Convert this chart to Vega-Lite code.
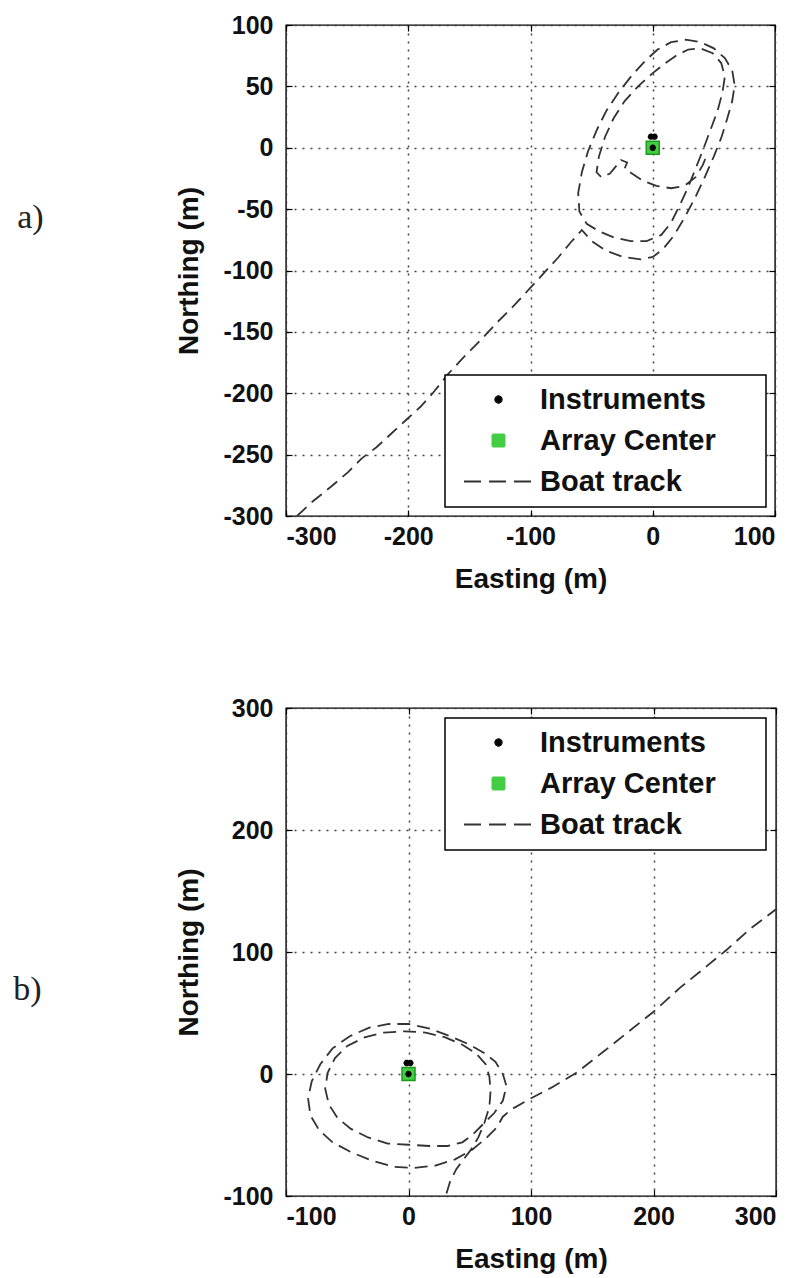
{
  "$schema": "https://vega.github.io/schema/vega-lite/v6.json",
  "background": "white",
  "padding": {"left": 12, "top": 12, "right": 5, "bottom": 5},
  "config": {
    "font": "Liberation Sans",
    "view": {"stroke": "#000", "strokeWidth": 1.4},
    "axis": {
      "labelFont": "Liberation Sans", "labelFontWeight": "bold", "labelFontSize": 25, "labelColor": "#111",
      "labelExpr": "'' + datum.value",
      "titleFont": "Liberation Sans", "titleFontWeight": "bold", "titleFontSize": 28, "titleColor": "#111",
      "domain": false, "tickColor": "#000", "tickSize": -6, "tickWidth": 1.2,
      "gridColor": "#444", "gridDash": [2, 6], "gridWidth": 1.5, "gridOpacity": 1
    },
    "axisX": {"labelPadding": 14, "titlePadding": 16},
    "axisY": {"labelPadding": 19, "titlePadding": 19}
  },
  "datasets": {
    "trackA": [
      {"i": 0, "e": -291, "n": -300}, {"i": 1, "e": -278, "n": -288}, {"i": 2, "e": -263, "n": -276},
      {"i": 3, "e": -249, "n": -264}, {"i": 4, "e": -238, "n": -253}, {"i": 5, "e": -226, "n": -244},
      {"i": 6, "e": -214, "n": -233}, {"i": 7, "e": -202, "n": -222}, {"i": 8, "e": -190, "n": -211},
      {"i": 9, "e": -180, "n": -200}, {"i": 10, "e": -168, "n": -185}, {"i": 11, "e": -155, "n": -171},
      {"i": 12, "e": -141, "n": -157}, {"i": 13, "e": -127, "n": -142}, {"i": 14, "e": -113, "n": -128},
      {"i": 15, "e": -100, "n": -114}, {"i": 16, "e": -88, "n": -101}, {"i": 17, "e": -77, "n": -89},
      {"i": 18, "e": -67, "n": -77}, {"i": 19, "e": -58, "n": -67},
      {"i": 20, "e": -50, "n": -76}, {"i": 21, "e": -38, "n": -84}, {"i": 22, "e": -24, "n": -89},
      {"i": 23, "e": -10, "n": -91}, {"i": 24, "e": 0, "n": -89}, {"i": 25, "e": 8, "n": -83},
      {"i": 26, "e": 17, "n": -72}, {"i": 27, "e": 26, "n": -57}, {"i": 28, "e": 35, "n": -40},
      {"i": 29, "e": 43, "n": -23}, {"i": 30, "e": 50, "n": -7}, {"i": 31, "e": 56, "n": 8},
      {"i": 32, "e": 61, "n": 24}, {"i": 33, "e": 65, "n": 38}, {"i": 34, "e": 67, "n": 51},
      {"i": 35, "e": 65, "n": 63}, {"i": 36, "e": 59, "n": 73}, {"i": 37, "e": 50, "n": 81},
      {"i": 38, "e": 39, "n": 86}, {"i": 39, "e": 27, "n": 88}, {"i": 40, "e": 15, "n": 86},
      {"i": 41, "e": 4, "n": 80}, {"i": 42, "e": -6, "n": 71}, {"i": 43, "e": -17, "n": 59},
      {"i": 44, "e": -28, "n": 45}, {"i": 45, "e": -38, "n": 30}, {"i": 46, "e": -46, "n": 14},
      {"i": 47, "e": -53, "n": -3}, {"i": 48, "e": -58, "n": -20}, {"i": 49, "e": -61, "n": -37},
      {"i": 50, "e": -60, "n": -52}, {"i": 51, "e": -54, "n": -62},
      {"i": 52, "e": -44, "n": -68}, {"i": 53, "e": -32, "n": -73}, {"i": 54, "e": -18, "n": -76},
      {"i": 55, "e": -5, "n": -76}, {"i": 56, "e": 7, "n": -71}, {"i": 57, "e": 15, "n": -61},
      {"i": 58, "e": 22, "n": -47}, {"i": 59, "e": 29, "n": -32}, {"i": 60, "e": 35, "n": -17},
      {"i": 61, "e": 41, "n": -2}, {"i": 62, "e": 47, "n": 14}, {"i": 63, "e": 53, "n": 30},
      {"i": 64, "e": 57, "n": 45}, {"i": 65, "e": 59, "n": 58}, {"i": 66, "e": 56, "n": 69},
      {"i": 67, "e": 49, "n": 77}, {"i": 68, "e": 39, "n": 81}, {"i": 69, "e": 29, "n": 80},
      {"i": 70, "e": 19, "n": 75}, {"i": 71, "e": 9, "n": 68}, {"i": 72, "e": -1, "n": 60},
      {"i": 73, "e": -12, "n": 50}, {"i": 74, "e": -23, "n": 38}, {"i": 75, "e": -32, "n": 24},
      {"i": 76, "e": -39, "n": 9}, {"i": 77, "e": -44, "n": -7}, {"i": 78, "e": -46, "n": -20},
      {"i": 79, "e": -42, "n": -24}, {"i": 80, "e": -35, "n": -21}, {"i": 81, "e": -30, "n": -15},
      {"i": 82, "e": -26, "n": -10}, {"i": 83, "e": -21, "n": -12}, {"i": 84, "e": -23, "n": -17},
      {"i": 85, "e": -17, "n": -21}, {"i": 86, "e": -8, "n": -27}, {"i": 87, "e": 3, "n": -31},
      {"i": 88, "e": 15, "n": -33}, {"i": 89, "e": 26, "n": -31}, {"i": 90, "e": 35, "n": -24},
      {"i": 91, "e": 41, "n": -14}, {"i": 92, "e": 45, "n": -4}
    ],
    "trackB": [
      {"i": 0, "e": 31, "n": -98}, {"i": 1, "e": 34, "n": -88}, {"i": 2, "e": 39, "n": -78},
      {"i": 3, "e": 45, "n": -70}, {"i": 4, "e": 51, "n": -62}, {"i": 5, "e": 57, "n": -52},
      {"i": 6, "e": 62, "n": -40}, {"i": 7, "e": 66, "n": -27}, {"i": 8, "e": 67, "n": -14},
      {"i": 9, "e": 66, "n": -2}, {"i": 10, "e": 63, "n": 8},
      {"i": 11, "e": 55, "n": 17}, {"i": 12, "e": 44, "n": 24}, {"i": 13, "e": 30, "n": 30},
      {"i": 14, "e": 14, "n": 34}, {"i": 15, "e": -3, "n": 35}, {"i": 16, "e": -20, "n": 34},
      {"i": 17, "e": -36, "n": 30}, {"i": 18, "e": -50, "n": 23}, {"i": 19, "e": -60, "n": 13},
      {"i": 20, "e": -66, "n": 1}, {"i": 21, "e": -68, "n": -12}, {"i": 22, "e": -65, "n": -25},
      {"i": 23, "e": -58, "n": -36}, {"i": 24, "e": -47, "n": -45}, {"i": 25, "e": -33, "n": -52},
      {"i": 26, "e": -17, "n": -57}, {"i": 27, "e": 0, "n": -58}, {"i": 28, "e": 17, "n": -59},
      {"i": 29, "e": 32, "n": -59}, {"i": 30, "e": 44, "n": -56}, {"i": 31, "e": 52, "n": -50},
      {"i": 32, "e": 60, "n": -42}, {"i": 33, "e": 70, "n": -32}, {"i": 34, "e": 77, "n": -22},
      {"i": 35, "e": 80, "n": -10}, {"i": 36, "e": 77, "n": 0}, {"i": 37, "e": 71, "n": 10},
      {"i": 38, "e": 62, "n": 17}, {"i": 39, "e": 50, "n": 24}, {"i": 40, "e": 34, "n": 31},
      {"i": 41, "e": 18, "n": 37}, {"i": 42, "e": 0, "n": 41}, {"i": 43, "e": -16, "n": 41},
      {"i": 44, "e": -32, "n": 38}, {"i": 45, "e": -48, "n": 31}, {"i": 46, "e": -62, "n": 21},
      {"i": 47, "e": -72, "n": 8}, {"i": 48, "e": -79, "n": -6}, {"i": 49, "e": -82, "n": -20},
      {"i": 50, "e": -80, "n": -34}, {"i": 51, "e": -73, "n": -46}, {"i": 52, "e": -62, "n": -56},
      {"i": 53, "e": -47, "n": -64}, {"i": 54, "e": -30, "n": -71}, {"i": 55, "e": -12, "n": -76},
      {"i": 56, "e": 5, "n": -77}, {"i": 57, "e": 22, "n": -75}, {"i": 58, "e": 38, "n": -70},
      {"i": 59, "e": 52, "n": -62}, {"i": 60, "e": 63, "n": -53}, {"i": 61, "e": 72, "n": -44},
      {"i": 62, "e": 77, "n": -35},
      {"i": 63, "e": 84, "n": -29}, {"i": 64, "e": 98, "n": -21}, {"i": 65, "e": 117, "n": -11},
      {"i": 66, "e": 137, "n": 1}, {"i": 67, "e": 160, "n": 19}, {"i": 68, "e": 180, "n": 35},
      {"i": 69, "e": 200, "n": 51}, {"i": 70, "e": 222, "n": 71}, {"i": 71, "e": 243, "n": 88},
      {"i": 72, "e": 260, "n": 102}, {"i": 73, "e": 279, "n": 119}, {"i": 74, "e": 300, "n": 135}
    ],
    "instruments": [
      {"e": 0, "n": 0}, {"e": -1.5, "n": 9}, {"e": 1.5, "n": 9}
    ],
    "center": [
      {"e": 0, "n": 0}
    ]
  },
  "spacing": 101,
  "resolve": {
    "scale": {"x": "independent", "y": "independent", "color": "independent"},
    "legend": {"color": "independent"}
  },
  "vconcat": [
    {
      "width": 489,
      "height": 491,
      "title": {
        "text": "a)", "orient": "left", "angle": 0, "align": "right", "baseline": "middle",
        "font": "Liberation Serif", "fontSize": 34, "fontWeight": "normal", "color": "#222",
        "offset": 106, "dy": -53, "anchor": "middle"
      },
      "resolve": {"axis": {"x": "independent", "y": "independent"}},
      "layer": [
        {
          "data": {"name": "trackA"},
          "mark": {"type": "line", "strokeDash": [13, 7], "strokeWidth": 1.8, "clip": true},
          "encoding": {
            "x": {
              "field": "e", "type": "quantitative",
              "scale": {"domain": [-300, 100], "nice": false, "zero": false},
              "axis": {"values": [-300, -200, -100, 0, 100], "title": "Easting (m)"}
            },
            "y": {
              "field": "n", "type": "quantitative",
              "scale": {"domain": [-300, 100], "nice": false, "zero": false},
              "axis": {"values": [-300, -250, -200, -150, -100, -50, 0, 50, 100], "title": "Northing (m)"}
            },
            "order": {"field": "i"},
            "color": {
              "datum": "Boat track", "type": "nominal",
              "scale": {"domain": ["Instruments", "Array Center", "Boat track"], "range": ["#000000", "#44cc44", "#333333"]},
              "legend": {
                "orient": "bottom-right", "offset": 9, "title": null,
                "labelFont": "Liberation Sans", "labelFontSize": 29, "labelFontWeight": "bold", "labelColor": "#111",
                "labelLimit": 400,
                "labelExpr": "datum.label + '\u00a0\u00a0\u00a0\u00a0\u00a0\u200b'",
                "padding": 10, "rowPadding": 11,
                "strokeColor": "#000", "fillColor": "#ffffff",
                "symbolSize": 100, "symbolOffset": 29, "labelOffset": 27,
                "encode": {
                  "legend": {"update": {"strokeWidth": {"value": 1.5}}},
                  "symbols": {"update": {
                    "shape": {"signal": "datum.value === 'Boat track' ? 'M-6.9,0H6.9' : datum.value === 'Array Center' ? 'square' : 'M0,-1V1M-1,0H1M-0.7,-0.7L0.7,0.7M-0.7,0.7L0.7,-0.7'"},
                    "size": {"signal": "datum.value === 'Array Center' ? 144 : datum.value === 'Instruments' ? 70 : 100"},
                    "fill": {"signal": "datum.value === 'Array Center' ? '#44cc44' : 'transparent'"},
                    "stroke": {"signal": "datum.value === 'Array Center' ? '#22aa22' : datum.value === 'Instruments' ? '#000000' : '#333333'"},
                    "strokeWidth": {"signal": "datum.value === 'Instruments' ? 2.5 : 2"},
                    "strokeDash": {"signal": "datum.value === 'Boat track' ? [17, 8] : [1, 0]"},
                    "opacity": {"value": 1}
                  }}
                }
              }
            }
          }
        },
        {
          "data": {"name": "center"},
          "mark": {"type": "point", "shape": "square", "filled": true, "size": 169, "stroke": "#1a9a1a", "strokeWidth": 1.5, "opacity": 1},
          "encoding": {
            "x": {
              "field": "e", "type": "quantitative",
              "scale": {"domain": [-300, 100], "nice": false, "zero": false},
              "axis": {"orient": "top", "values": [-300, -200, -100, 0, 100], "labels": false, "title": null, "grid": false}
            },
            "y": {
              "field": "n", "type": "quantitative",
              "scale": {"domain": [-300, 100], "nice": false, "zero": false},
              "axis": {"orient": "right", "values": [-300, -250, -200, -150, -100, -50, 0, 50, 100], "labels": false, "title": null, "grid": false}
            },
            "color": {"datum": "Array Center", "type": "nominal"}
          }
        },
        {
          "data": {"name": "instruments"},
          "mark": {"type": "point", "shape": "M0,-1V1M-1,0H1M-0.7,-0.7L0.7,0.7M-0.7,0.7L0.7,-0.7", "filled": false, "size": 40, "strokeWidth": 2, "opacity": 1},
          "encoding": {
            "x": {"field": "e", "type": "quantitative", "axis": null},
            "y": {"field": "n", "type": "quantitative", "axis": null},
            "color": {"datum": "Instruments", "type": "nominal"}
          }
        }
      ]
    },
    {
      "width": 490,
      "height": 488,
      "title": {
        "text": "b)", "orient": "left", "angle": 0, "align": "right", "baseline": "middle",
        "font": "Liberation Serif", "fontSize": 34, "fontWeight": "normal", "color": "#222",
        "offset": 106, "dy": 38, "anchor": "middle"
      },
      "resolve": {"axis": {"x": "independent", "y": "independent"}},
      "layer": [
        {
          "data": {"name": "trackB"},
          "mark": {"type": "line", "strokeDash": [13, 7], "strokeWidth": 1.8, "clip": true},
          "encoding": {
            "x": {
              "field": "e", "type": "quantitative",
              "scale": {"domain": [-100, 300], "nice": false, "zero": false},
              "axis": {"values": [-100, 0, 100, 200, 300], "title": "Easting (m)"}
            },
            "y": {
              "field": "n", "type": "quantitative",
              "scale": {"domain": [-100, 300], "nice": false, "zero": false},
              "axis": {"values": [-100, 0, 100, 200, 300], "title": "Northing (m)"}
            },
            "order": {"field": "i"},
            "color": {
              "datum": "Boat track", "type": "nominal",
              "scale": {"domain": ["Instruments", "Array Center", "Boat track"], "range": ["#000000", "#44cc44", "#333333"]},
              "legend": {
                "orient": "top-right", "offset": 10, "title": null,
                "labelFont": "Liberation Sans", "labelFontSize": 29, "labelFontWeight": "bold", "labelColor": "#111",
                "labelLimit": 400,
                "labelExpr": "datum.label + '\u00a0\u00a0\u00a0\u00a0\u00a0\u200b'",
                "padding": 10, "rowPadding": 11,
                "strokeColor": "#000", "fillColor": "#ffffff",
                "symbolSize": 100, "symbolOffset": 29, "labelOffset": 27,
                "encode": {
                  "legend": {"update": {"strokeWidth": {"value": 1.5}}},
                  "symbols": {"update": {
                    "shape": {"signal": "datum.value === 'Boat track' ? 'M-6.9,0H6.9' : datum.value === 'Array Center' ? 'square' : 'M0,-1V1M-1,0H1M-0.7,-0.7L0.7,0.7M-0.7,0.7L0.7,-0.7'"},
                    "size": {"signal": "datum.value === 'Array Center' ? 144 : datum.value === 'Instruments' ? 70 : 100"},
                    "fill": {"signal": "datum.value === 'Array Center' ? '#44cc44' : 'transparent'"},
                    "stroke": {"signal": "datum.value === 'Array Center' ? '#22aa22' : datum.value === 'Instruments' ? '#000000' : '#333333'"},
                    "strokeWidth": {"signal": "datum.value === 'Instruments' ? 2.5 : 2"},
                    "strokeDash": {"signal": "datum.value === 'Boat track' ? [17, 8] : [1, 0]"},
                    "opacity": {"value": 1}
                  }}
                }
              }
            }
          }
        },
        {
          "data": {"name": "center"},
          "mark": {"type": "point", "shape": "square", "filled": true, "size": 169, "stroke": "#1a9a1a", "strokeWidth": 1.5, "opacity": 1},
          "encoding": {
            "x": {
              "field": "e", "type": "quantitative",
              "scale": {"domain": [-100, 300], "nice": false, "zero": false},
              "axis": {"orient": "top", "values": [-100, 0, 100, 200, 300], "labels": false, "title": null, "grid": false}
            },
            "y": {
              "field": "n", "type": "quantitative",
              "scale": {"domain": [-100, 300], "nice": false, "zero": false},
              "axis": {"orient": "right", "values": [-100, 0, 100, 200, 300], "labels": false, "title": null, "grid": false}
            },
            "color": {"datum": "Array Center", "type": "nominal"}
          }
        },
        {
          "data": {"name": "instruments"},
          "mark": {"type": "point", "shape": "M0,-1V1M-1,0H1M-0.7,-0.7L0.7,0.7M-0.7,0.7L0.7,-0.7", "filled": false, "size": 40, "strokeWidth": 2, "opacity": 1},
          "encoding": {
            "x": {"field": "e", "type": "quantitative", "axis": null},
            "y": {"field": "n", "type": "quantitative", "axis": null},
            "color": {"datum": "Instruments", "type": "nominal"}
          }
        }
      ]
    }
  ]
}
